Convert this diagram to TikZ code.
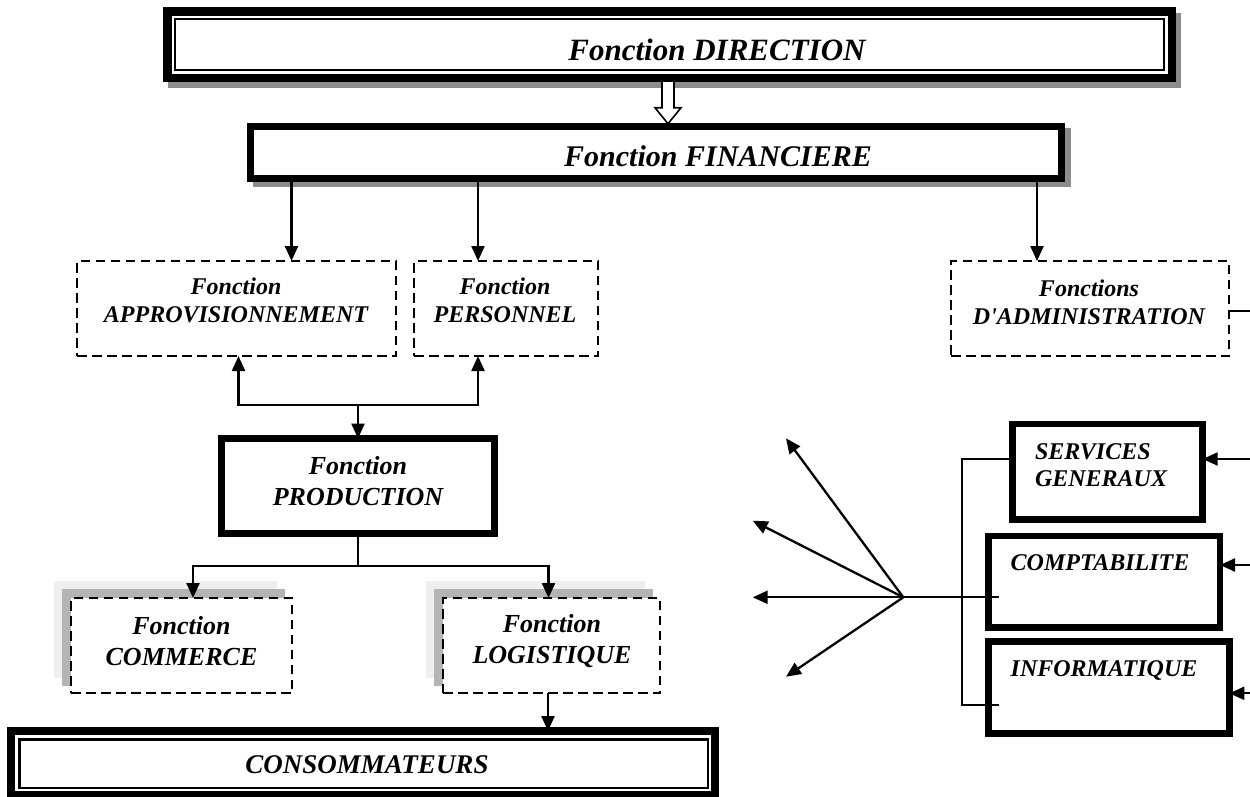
\documentclass[tikz,border=0pt]{standalone}
\usepackage{fontspec}
\setmainfont{Liberation Serif}
\usetikzlibrary{arrows.meta,calc}

\definecolor{shadowgray}{HTML}{8C8C8C}
\definecolor{softdark}{HTML}{B4B4B4}
\definecolor{softlight}{HTML}{EFEFEF}

\tikzset{
  box/.style={draw, fill=white, inner sep=0pt, outer sep=0pt},
  heavybox/.style={box, line width=7pt},
  framebox/.style={box, line width=8.5pt},
  innerframe/.style={draw, line width=2.2pt, inner sep=0pt, outer sep=0pt},
  dashbox/.style={box, line width=2.7pt, dash pattern=on 9.5pt off 5.5pt},
  bi/.style={inner sep=0pt, outer sep=0pt},
  txtS/.style={bi, align=center, font=\bfseries\itshape\fontsize{24}{28}\selectfont},
  txtM/.style={bi, align=center, font=\bfseries\itshape\fontsize{26}{31}\selectfont},
  txtR/.style={bi, align=left, font=\bfseries\itshape\fontsize{24}{27}\selectfont},
  txtT/.style={bi, font=\bfseries\itshape\fontsize{30}{36}\selectfont},
  conn/.style={line width=2.3pt},
  arr/.style={conn, -{Triangle[length=15pt,width=13pt]}},
  hollow/.style={line width=1.6pt, fill=white, line join=miter},
}

\begin{document}
\begin{tikzpicture}[x=1pt, y=-1pt]
\useasboundingbox (0,0) rectangle (1250,796);

% ---- drop shadows ----
\fill[shadowgray] (168,13) rectangle (1181,88);
\fill[shadowgray] (253,128) rectangle (1071,187);
\fill[softlight] (54,581) rectangle (277,678);
\fill[softdark]  (62,589) rectangle (285,686);
\fill[softlight] (426,581) rectangle (645,678);
\fill[softdark]  (434,589) rectangle (653,686);

% ---- top level ----
\node[framebox, minimum width=1004.5, minimum height=66.5] (dir) at (669.5,44.5) {};
\node[innerframe, minimum width=989, minimum height=51] (dirin) at (dir.center) {};
\node[txtT, anchor=base, font=\bfseries\itshape\fontsize{31}{36}\selectfont] (dirt) at (717,60) {Fonction DIRECTION};

\node[heavybox, minimum width=810.5, minimum height=51.5] (fin) at (656,152.5) {};
\node[txtT, anchor=base] (fint) at (718,166.7) {Fonction FINANCIERE};

% ---- second level ----
\node[dashbox, minimum width=319, minimum height=95] (appro) at (236.5,308.5) {};
\node[txtS] (approt) at (236,300) {Fonction\\APPROVISIONNEMENT};

\node[dashbox, minimum width=184, minimum height=95] (pers) at (506,308.5) {};
\node[txtS] (perst) at (505,300) {Fonction\\PERSONNEL};

\node[dashbox, minimum width=278, minimum height=95] (admin) at (1090,308.5) {};
\node[txtS] (admint) at (1089,302.5) {Fonctions\\D\textquotesingle ADMINISTRATION};

% ---- production ----
\node[heavybox, minimum width=273, minimum height=95] (prod) at (358,486) {};
\node[txtM] (prodt) at (358,481.5) {Fonction\\PRODUCTION};

\node[dashbox, minimum width=221, minimum height=95] (com) at (181.5,645.5) {};
\node[txtM] (comt) at (181.5,641.5) {Fonction\\COMMERCE};

\node[dashbox, minimum width=217, minimum height=95] (logi) at (551.5,645.5) {};
\node[txtM] (logit) at (552,641.5) {Fonction\\LOGISTIQUE};

% ---- consumers ----
\node[framebox, line width=8pt, minimum width=704, minimum height=64] (cons) at (363,763) {};
\node[innerframe, minimum width=688.5, minimum height=48.5] (consin) at (363.75,763.75) {};
\node[txtT, anchor=base, font=\bfseries\itshape\fontsize{27}{32}\selectfont] (const) at (367,773) {CONSOMMATEURS};

% ---- administration services ----
\node[box, line width=6.7pt, minimum width=190, minimum height=95.3] (serv) at (1107.7,471.7) {};
\node[txtR, anchor=west] (servt) at (1035,464.7) {SERVICES\\GENERAUX};

\node[box, line width=6.7pt, minimum width=231.6, minimum height=91.3] (compta) at (1104.2,581.7) {};
\node[txtR, anchor=base west] (comptat) at (1010.7,570.7) {COMPTABILITE};

\node[box, line width=6.7pt, minimum width=240.9, minimum height=91.6] (info) at (1108.9,687.5) {};
\node[txtR, anchor=base west] (infot) at (1010.7,676.7) {INFORMATIQUE};

% ---- hollow arrow from the direction ----
\coordinate (hs) at (668,82);
\coordinate (ht) at (fin.north -| hs);
\draw[hollow] ($(hs)+(-6,0)$) -- ($(ht)+(-6,-19)$) -- ($(ht)+(-13,-19)$)
  -- ($(ht)+(0,-3)$) -- ($(ht)+(13,-19)$) -- ($(ht)+(6,-19)$) -- ($(hs)+(6,0)$);

% ---- connectors from finance ----
\coordinate (c1) at ([xshift=55pt]appro.north);
\coordinate (c2) at ([xshift=-28pt]pers.north);
\coordinate (c3) at ([xshift=-53pt]admin.north);
\draw[arr] (fin.south -| c1) -- (c1);
\draw[arr] (fin.south -| c2) -- (c2);
\draw[arr] (fin.south -| c3) -- (c3);

% ---- links around production ----
\coordinate (j1) at (358,405);
\draw[arr] (j1) -| ([xshift=2pt]appro.south);
\draw[arr] (j1) -| ([xshift=-28pt]pers.south);
\draw[arr] (j1) -- (prod.north);

\coordinate (j2) at (358,566);
\draw[conn] (prod.south) -- (j2);
\draw[arr] (j2) -| ([xshift=11.5pt]com.north);
\draw[arr] (j2) -| ([xshift=-3pt]logi.north);
\draw[arr] ([xshift=-3.5pt]logi.south) -- ([xshift=-3.5pt]logi.south |- cons.north);

% ---- administration side ----
\coordinate (e0) at (1250,310.7);
\draw[conn] (admin.east |- e0) -- (e0);

\coordinate (e1) at (1250,459);
\coordinate (e2) at (1250,565);
\coordinate (e3) at (1250,693.3);
\draw[arr] (e1) -- (e1 -| serv.east);
\draw[arr] (e2) -- (e2 -| compta.east);
\draw[arr] (e3) -- (e3 -| info.east);

\coordinate (bi) at (999.3,705.3);
\coordinate (ci) at (999.3,597.3);
\coordinate (hub) at (903.3,597.3);
\draw[conn] ([yshift=12.7pt]serv.west) -- ++(-51,0) |- (bi);
\draw[conn] (hub) -- (ci);

\coordinate (f1) at (786,438.3);
\coordinate (f2) at (752.7,520.7);
\coordinate (f3) at (752.7,597.3);
\coordinate (f4) at (786,676.7);
\foreach \t in {f1,f2,f3,f4} \draw[arr] (hub) -- (\t);
\end{tikzpicture}
\end{document}
